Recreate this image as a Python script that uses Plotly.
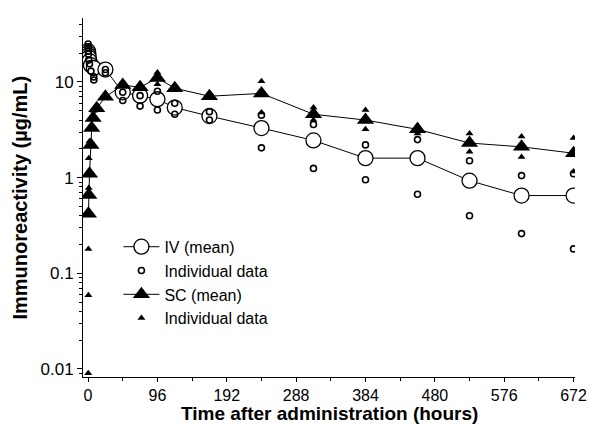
import plotly.graph_objects as go

# ---- data ----
iv_mean_t = [0.08, 0.25, 0.5, 1, 2, 4, 8, 24, 48, 72, 96, 120, 168, 240, 312, 384, 456, 528, 600, 672]
iv_mean_v = [21.0, 20.0, 19.0, 18.0, 16.5, 15.0, 14.0, 13.5, 7.8, 7.2, 6.6, 5.4, 4.4, 3.3, 2.45, 1.6, 1.6, 0.93, 0.65, 0.65]

iv_ind_t = [0.08, 0.08, 0.25, 0.5, 1, 2, 4, 8, 8, 24, 24, 48, 48, 72, 72, 96, 96, 120, 120, 168, 168,
            240, 240, 312, 312, 384, 384, 456, 456, 528, 528, 600, 600, 672, 672]
iv_ind_v = [25.0, 23.0, 21.0, 19.5, 17.0, 15.5, 13.0, 11.3, 10.5, 13.5, 12.5, 7.8, 6.4, 7.2, 5.6, 8.0, 5.1, 6.0, 4.6, 4.9, 4.0,
            4.5, 2.05, 3.6, 1.25, 2.2, 0.95, 2.5, 0.67, 1.5, 0.40, 1.05, 0.26, 1.1, 0.18]

sc_mean_t = [0.5, 1, 2, 4, 5, 7, 12, 24, 48, 72, 96, 120, 168, 240, 312, 384, 456, 528, 600, 672]
sc_mean_v = [0.42, 0.66, 1.1, 2.2, 3.3, 4.2, 5.3, 7.0, 9.3, 8.8, 11.0, 8.6, 7.1, 7.6, 4.6, 4.0, 3.2, 2.3, 2.1, 1.8]

sc_ind_t = [0.25, 0.5, 0.5, 1, 1, 2, 4, 8, 24, 48, 72, 96, 96, 120, 168, 240, 240,
            312, 312, 384, 384, 456, 456, 528, 528, 600, 600, 672, 672]
sc_ind_v = [0.009, 0.059, 0.18, 0.78, 1.6, 2.4, 3.3, 5.0, 7.5, 9.8, 9.0, 12.6, 9.5, 8.2, 7.6, 10.2, 4.8,
            5.4, 4.0, 5.1, 3.2, 3.5, 2.9, 2.9, 1.86, 2.7, 1.64, 2.6, 1.16]

x_ticks = [0, 96, 192, 288, 384, 480, 576, 672]
x_minor = [48, 144, 240, 336, 432, 528, 624]
y_ticks = [0.01, 0.1, 1, 10]
y_labels = ["0.01", "0.1", "1", "10"]

minor_y = []
for dec in [0.001, 0.01, 0.1, 1, 10]:
    for m in range(2, 10):
        v = round(dec * m, 6)
        if 0.0085 <= v <= 45:
            minor_y.append(v)

fig = go.Figure()
fig.add_trace(go.Scatter(
    x=iv_mean_t, y=iv_mean_v, mode="lines+markers", name="IV (mean)",
    line=dict(color="black", width=1),
    marker=dict(symbol="circle", size=15, color="white", line=dict(color="black", width=1.3))))
fig.add_trace(go.Scatter(
    x=iv_ind_t, y=iv_ind_v, mode="markers", name="Individual data",
    marker=dict(symbol="circle-open", size=6, color="black", line=dict(width=1.6))))
fig.add_trace(go.Scatter(
    x=sc_mean_t, y=sc_mean_v, mode="lines+markers", name="SC (mean)",
    line=dict(color="black", width=1),
    marker=dict(symbol="triangle-up", size=15, color="black")))
fig.add_trace(go.Scatter(
    x=sc_ind_t, y=sc_ind_v, mode="markers", name="Individual data ",
    marker=dict(symbol="triangle-up", size=7, color="black")))

font = "Liberation Sans, Arial, sans-serif"
fig.update_layout(
    width=605, height=425,
    margin=dict(l=75, r=38, t=10, b=56, autoexpand=False),
    paper_bgcolor="white", plot_bgcolor="white",
    font=dict(family=font, size=16, color="black"),
    showlegend=True,
    legend=dict(x=0.072, y=0.41, xanchor="left", yanchor="top",
                bgcolor="rgba(0,0,0,0)", font=dict(size=16, family=font),
                tracegroupgap=0, itemwidth=36),
    annotations=[
        dict(text="<b>Time after administration (hours)</b>", xref="paper", yref="paper",
             x=0.5, y=-0.101, xanchor="center", yanchor="middle", showarrow=False,
             font=dict(size=19, family=font)),
        dict(text="<b>Immunoreactivity (µg/mL)</b>", xref="paper", yref="paper",
             x=-0.13, y=0.5, xanchor="center", yanchor="middle", showarrow=False, textangle=-90,
             font=dict(size=20, family=font)),
    ],
)
fig.update_xaxes(
    range=[-7, 674], tickmode="array", tickvals=x_ticks,
    ticks="outside", ticklen=4, tickwidth=1, tickcolor="black",
    showline=True, linecolor="black", linewidth=1, showgrid=False, zeroline=False,
    minor=dict(tickmode="array", tickvals=x_minor, ticks="outside", ticklen=3, tickcolor="black"),
    tickfont=dict(size=16), automargin=False,
)
fig.update_yaxes(
    type="log", range=[-2.084, 1.669], tickmode="array", tickvals=y_ticks, ticktext=y_labels,
    ticks="outside", ticklen=5, tickwidth=1, tickcolor="black",
    showline=True, linecolor="black", linewidth=1, showgrid=False, zeroline=False,
    minor=dict(tickmode="array", tickvals=minor_y, ticks="outside", ticklen=3, tickcolor="black"),
    tickfont=dict(size=17), automargin=False,
)
fig.write_html("out.html")
